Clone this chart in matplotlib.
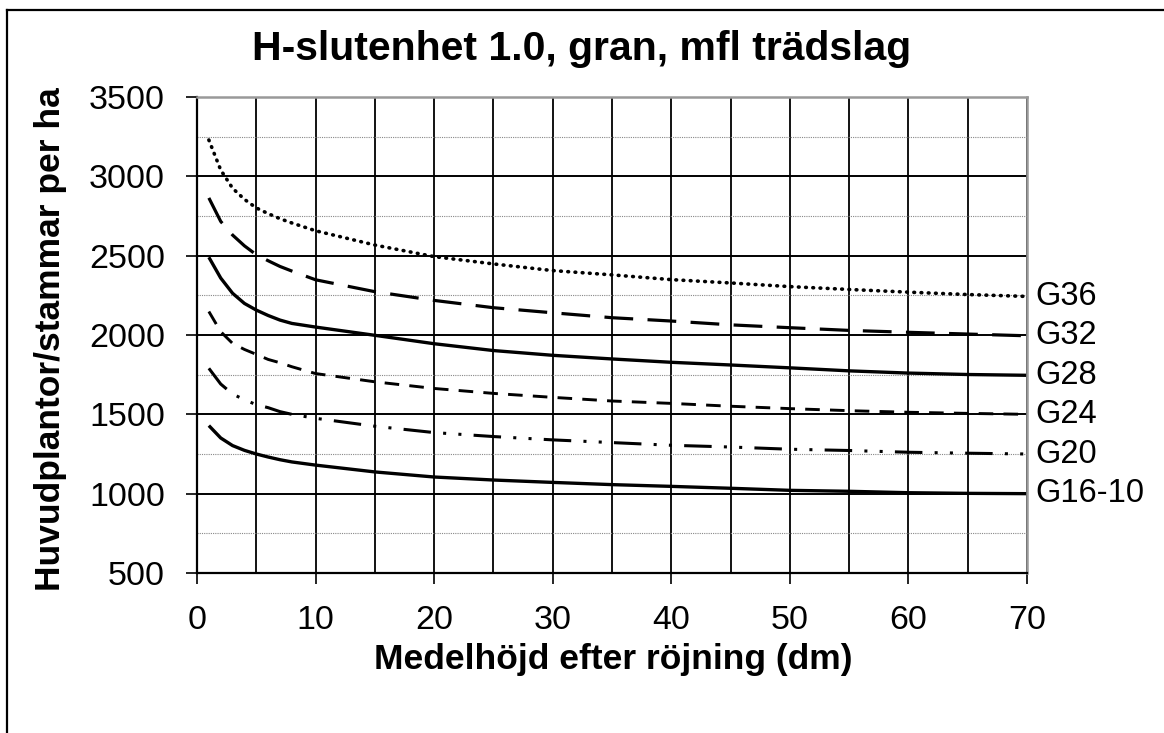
import matplotlib
matplotlib.use("Agg")
import matplotlib.pyplot as plt
from matplotlib.lines import Line2D
from matplotlib.ticker import MultipleLocator

plt.rcParams['font.family'] = ['Liberation Sans', 'DejaVu Sans']

title = "H-slutenhet 1.0, gran, mfl trädslag"
xlabel = "Medelhöjd efter röjning (dm)"
ylabel = "Huvudplantor/stammar per ha"

x = [1, 2, 3, 4, 5, 6, 7, 8, 10, 15, 20, 25, 30, 35, 40, 45, 50, 55, 60, 65, 70]
G36 = [3229, 3040, 2925, 2855, 2801, 2765, 2733, 2706, 2657, 2567, 2494, 2448, 2406, 2379, 2349, 2328, 2305, 2287, 2270, 2255, 2243]
G32 = [2864, 2716, 2630, 2562, 2506, 2468, 2432, 2403, 2348, 2273, 2218, 2172, 2140, 2109, 2088, 2064, 2046, 2029, 2017, 2006, 1995]
G28 = [2490, 2359, 2263, 2199, 2157, 2123, 2094, 2073, 2050, 1998, 1945, 1902, 1872, 1849, 1828, 1811, 1793, 1774, 1760, 1751, 1746]
G24 = [2148, 2021, 1947, 1909, 1878, 1846, 1825, 1800, 1757, 1705, 1663, 1632, 1607, 1584, 1569, 1551, 1536, 1523, 1513, 1506, 1500]
G20 = [1790, 1691, 1628, 1592, 1561, 1542, 1517, 1500, 1475, 1425, 1385, 1360, 1339, 1322, 1305, 1294, 1280, 1272, 1261, 1255, 1250]
G16_10 = [1429, 1351, 1303, 1273, 1250, 1231, 1214, 1200, 1180, 1137, 1105, 1086, 1071, 1057, 1046, 1034, 1021, 1015, 1006, 1002, 1000]

series_names = ["G36", "G32", "G28", "G24", "G20", "G16-10"]
series_vals = [G36, G32, G28, G24, G20, G16_10]

styles = [
    dict(lw=2.6, dashes=(0.2, 1.8), dash_capstyle='round'),
    dict(lw=2.3, dashes=(9, 4.5)),
    dict(lw=2.4, linestyle='-'),
    dict(lw=2.1, dashes=(5, 3.5)),
    dict(lw=2.2, dashes=(9, 4, 1, 4, 1, 4)),
    dict(lw=2.4, linestyle='-'),
]

W, H = 1164, 733
fig = plt.figure(figsize=(W / 100, H / 100), dpi=100)
ax = fig.add_axes([197 / W, 1 - 573 / H, (1027 - 197) / W, (573 - 97) / H])

ax.set_xlim(0, 70)
ax.set_ylim(500, 3500)
ax.xaxis.set_major_locator(MultipleLocator(10))
ax.xaxis.set_minor_locator(MultipleLocator(5))
ax.yaxis.set_major_locator(MultipleLocator(500))
ax.yaxis.set_minor_locator(MultipleLocator(250))

ax.grid(True, which='major', axis='y', color='black', lw=1.4)
ax.grid(True, which='minor', axis='y', color='#888888', lw=0.8, linestyle=(0, (1, 1)))
ax.grid(True, which='both', axis='x', color='black', lw=1.3)

ax.tick_params(axis='both', which='major', direction='out', length=8, width=1.2,
               labelsize=24.5, pad=15, color='black')
ax.tick_params(axis='both', which='minor', length=0)

for side in ['left', 'bottom']:
    ax.spines[side].set_color('black')
    ax.spines[side].set_linewidth(1.6)
for side in ['top', 'right']:
    ax.spines[side].set_color('#999999')
    ax.spines[side].set_linewidth(1.8)

for name, vals, st in zip(series_names, series_vals, styles):
    ax.plot(x, vals, color='black', solid_capstyle='butt', solid_joinstyle='round', **st)
    ax.annotate(name, xy=(x[-1], vals[-1]), xytext=(6, 0), textcoords='offset points',
                ha='left', va='center', fontsize=23.5, annotation_clip=False)

fig.text(0.5, 1 - 49 / H, title, ha='center', va='center', fontsize=29.5, fontweight='bold')
fig.text(613 / W, 1 - 660 / H, xlabel, ha='center', va='center', fontsize=25.5, fontweight='bold')
fig.text(51 / W, 1 - 339 / H, ylabel, ha='center', va='center', rotation=90,
         fontsize=25.5, fontweight='bold')

# outer frame
fig.add_artist(Line2D([7 / W, 7 / W], [0, 1 - 10 / H], transform=fig.transFigure,
                      color='black', lw=1.6))
fig.add_artist(Line2D([7 / W, 1], [1 - 10 / H, 1 - 10 / H], transform=fig.transFigure,
                      color='black', lw=1.6))

fig.savefig("out.png", dpi=100)
